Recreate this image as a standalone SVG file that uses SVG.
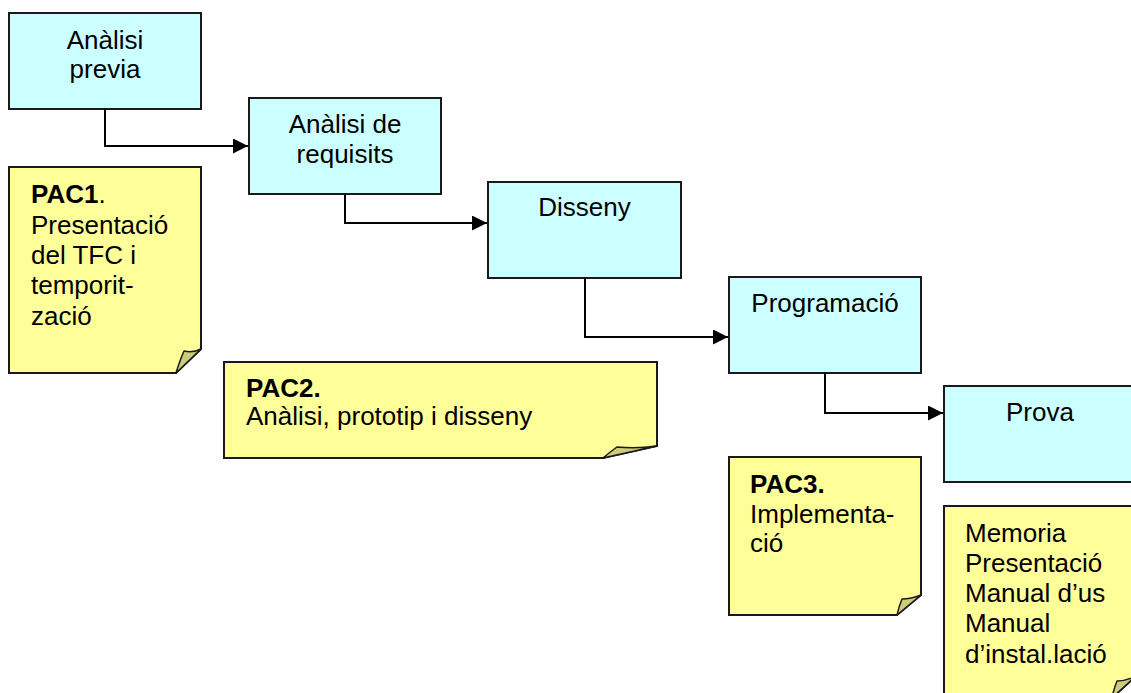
<svg xmlns="http://www.w3.org/2000/svg" width="1131" height="693" viewBox="0 0 1131 693">
  <defs>
    <marker id="arrow" viewBox="0 0 15 15" refX="15" refY="7.5" markerWidth="15" markerHeight="15" markerUnits="userSpaceOnUse" orient="auto">
      <path d="M0,0 L15,7.5 L0,15 Z" fill="#000"/>
    </marker>
  </defs>
  <style>
    .box { fill: #ccffff; stroke: #1a1a1a; stroke-width: 2; }
    .note { fill: #ffff99; stroke: #1a1a1a; stroke-width: 2; stroke-linejoin: miter; }
    .fold { fill: #cccc7a; stroke: #1a1a1a; stroke-width: 1.5; stroke-linejoin: round; }
    .conn { fill: none; stroke: #000; stroke-width: 2; }
    text { font-family: "Liberation Sans", Arial, sans-serif; font-size: 26px; fill: #000; }
    .c { text-anchor: middle; }
    .b { font-weight: bold; }
  </style>
  <rect width="1131" height="693" fill="#fff"/>

  <!-- process steps -->
  <g id="analisi-previa">
    <rect class="box" x="9" y="13" width="192" height="96"/>
    <text class="c" x="105" y="49">Anàlisi</text>
    <text class="c" x="105" y="78">previa</text>
  </g>
  <g id="analisi-requisits">
    <rect class="box" x="249" y="98" width="192" height="96"/>
    <text class="c" x="345" y="133">Anàlisi de</text>
    <text class="c" x="345" y="163">requisits</text>
  </g>
  <g id="disseny">
    <rect class="box" x="488" y="182" width="193" height="96"/>
    <text class="c" x="584.5" y="216">Disseny</text>
  </g>
  <g id="programacio">
    <rect class="box" x="729" y="277" width="192" height="96"/>
    <text class="c" x="825" y="312">Programació</text>
  </g>
  <g id="prova">
    <rect class="box" x="944" y="386" width="192" height="96"/>
    <text class="c" x="1040" y="421">Prova</text>
  </g>

  <!-- connectors -->
  <g id="connectors">
    <path class="conn" d="M105,109 V146 H248" marker-end="url(#arrow)"/>
    <path class="conn" d="M345,194 V223 H487" marker-end="url(#arrow)"/>
    <path class="conn" d="M585,278 V337 H728" marker-end="url(#arrow)"/>
    <path class="conn" d="M825,373 V413 H943" marker-end="url(#arrow)"/>
  </g>

  <!-- deliverable notes -->
  <g id="pac1">
    <path class="note" d="M9,167 H201 V349 L176,373 H9 Z"/>
    <path class="fold" d="M176,373 Q180,360 184,351 Q193,353 201,349 Z"/>
    <text x="31" y="203"><tspan class="b">PAC1</tspan>.</text>
    <text x="31" y="234">Presentació</text>
    <text x="31" y="264">del TFC i</text>
    <text x="31" y="294">temporit-</text>
    <text x="31" y="325">zació</text>
  </g>
  <g id="pac2">
    <path class="note" d="M224,362 H657 V446 L603,458 H224 Z"/>
    <path class="fold" d="M603,458 Q610,452 617,447 Q637,449 657,446 Z"/>
    <text class="b" x="246" y="397">PAC2.</text>
    <text x="246" y="425">Anàlisi, prototip i disseny</text>
  </g>
  <g id="pac3">
    <path class="note" d="M729,457 H921 V595 L897,615 H729 Z"/>
    <path class="fold" d="M897,615 Q899,606 902,599 Q911,599 921,595 Z"/>
    <text class="b" x="750" y="493">PAC3.</text>
    <text x="750" y="523">Implementa-</text>
    <text x="750" y="552">ció</text>
  </g>
  <g id="lliurament-final">
    <path class="note" d="M944,506 H1136 V676 L1112,698 H944 Z"/>
    <path class="fold" d="M1112,698 Q1114,688 1117,681 Q1126,681 1136,676 Z"/>
    <text x="965" y="542">Memoria</text>
    <text x="965" y="572">Presentació</text>
    <text x="965" y="602">Manual d’us</text>
    <text x="965" y="632">Manual</text>
    <text x="965" y="663">d’instal.lació</text>
  </g>
</svg>
